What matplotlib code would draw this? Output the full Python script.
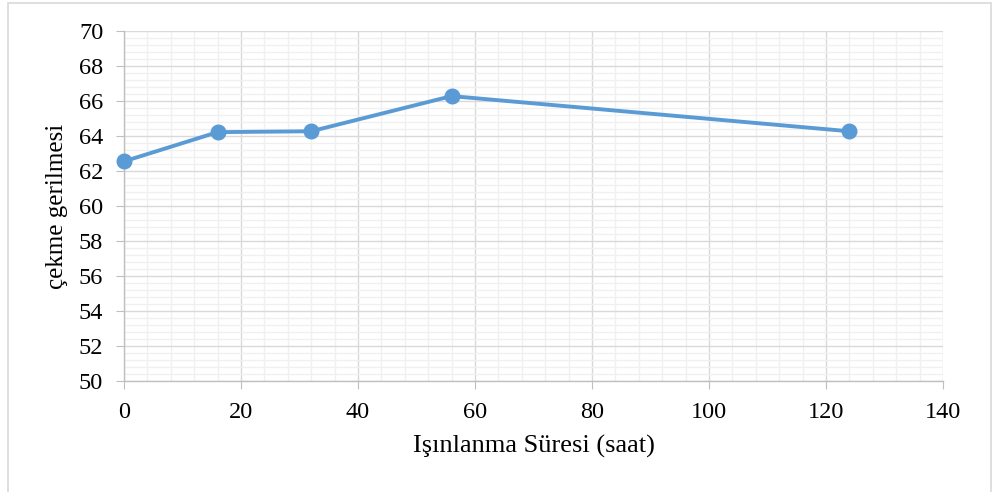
import matplotlib.pyplot as plt
from matplotlib.patches import Rectangle
from matplotlib.ticker import MultipleLocator

# ışınlanma süresi (saat) ve çekme gerilmesi
sure = [0, 16, 32, 56, 124]
gerilme = [62.55, 64.22, 64.27, 66.28, 64.27]

plt.rcParams['font.family'] = ['Liberation Serif', 'DejaVu Serif']

fig = plt.figure(figsize=(9.95, 4.92), dpi=100)
ax = fig.add_axes([0.1246, 0.2256, 0.8231, 0.7114])

# dış çerçeve
fig.patches.append(Rectangle((0.008, -0.01), 0.988, 1.004, transform=fig.transFigure,
                             fill=False, edgecolor='#D9D9D9', linewidth=1.2))

ax.plot(sure, gerilme, color='#5B9BD5', linewidth=2.8, marker='o',
        markersize=10.5, zorder=3, clip_on=False)

ax.set_xlim(0, 140)
ax.set_ylim(50, 70)
ax.xaxis.set_major_locator(MultipleLocator(20))
ax.xaxis.set_minor_locator(MultipleLocator(4))
ax.yaxis.set_major_locator(MultipleLocator(2))
ax.yaxis.set_minor_locator(MultipleLocator(0.4))

ax.grid(which='minor', color='#F0F0F0', linewidth=1.0)
ax.grid(which='major', color='#D9D9D9', linewidth=1.0)
ax.set_axisbelow(True)

for s in ['top', 'right']:
    ax.spines[s].set_visible(False)
for s in ['left', 'bottom']:
    ax.spines[s].set_color('#BFBFBF')
    ax.spines[s].set_linewidth(1.0)

ax.tick_params(which='major', length=6, color='#BFBFBF', labelsize=17.5)
ax.tick_params(axis='x', which='major', pad=9)
ax.tick_params(axis='y', which='major', pad=9)
ax.tick_params(which='minor', length=0)

ax.set_xlabel('Işınlanma Süresi (saat)', fontsize=19, labelpad=9)
ax.set_ylabel('çekme gerilmesi', fontsize=18, labelpad=8)

fig.savefig('out.png', dpi=100)
